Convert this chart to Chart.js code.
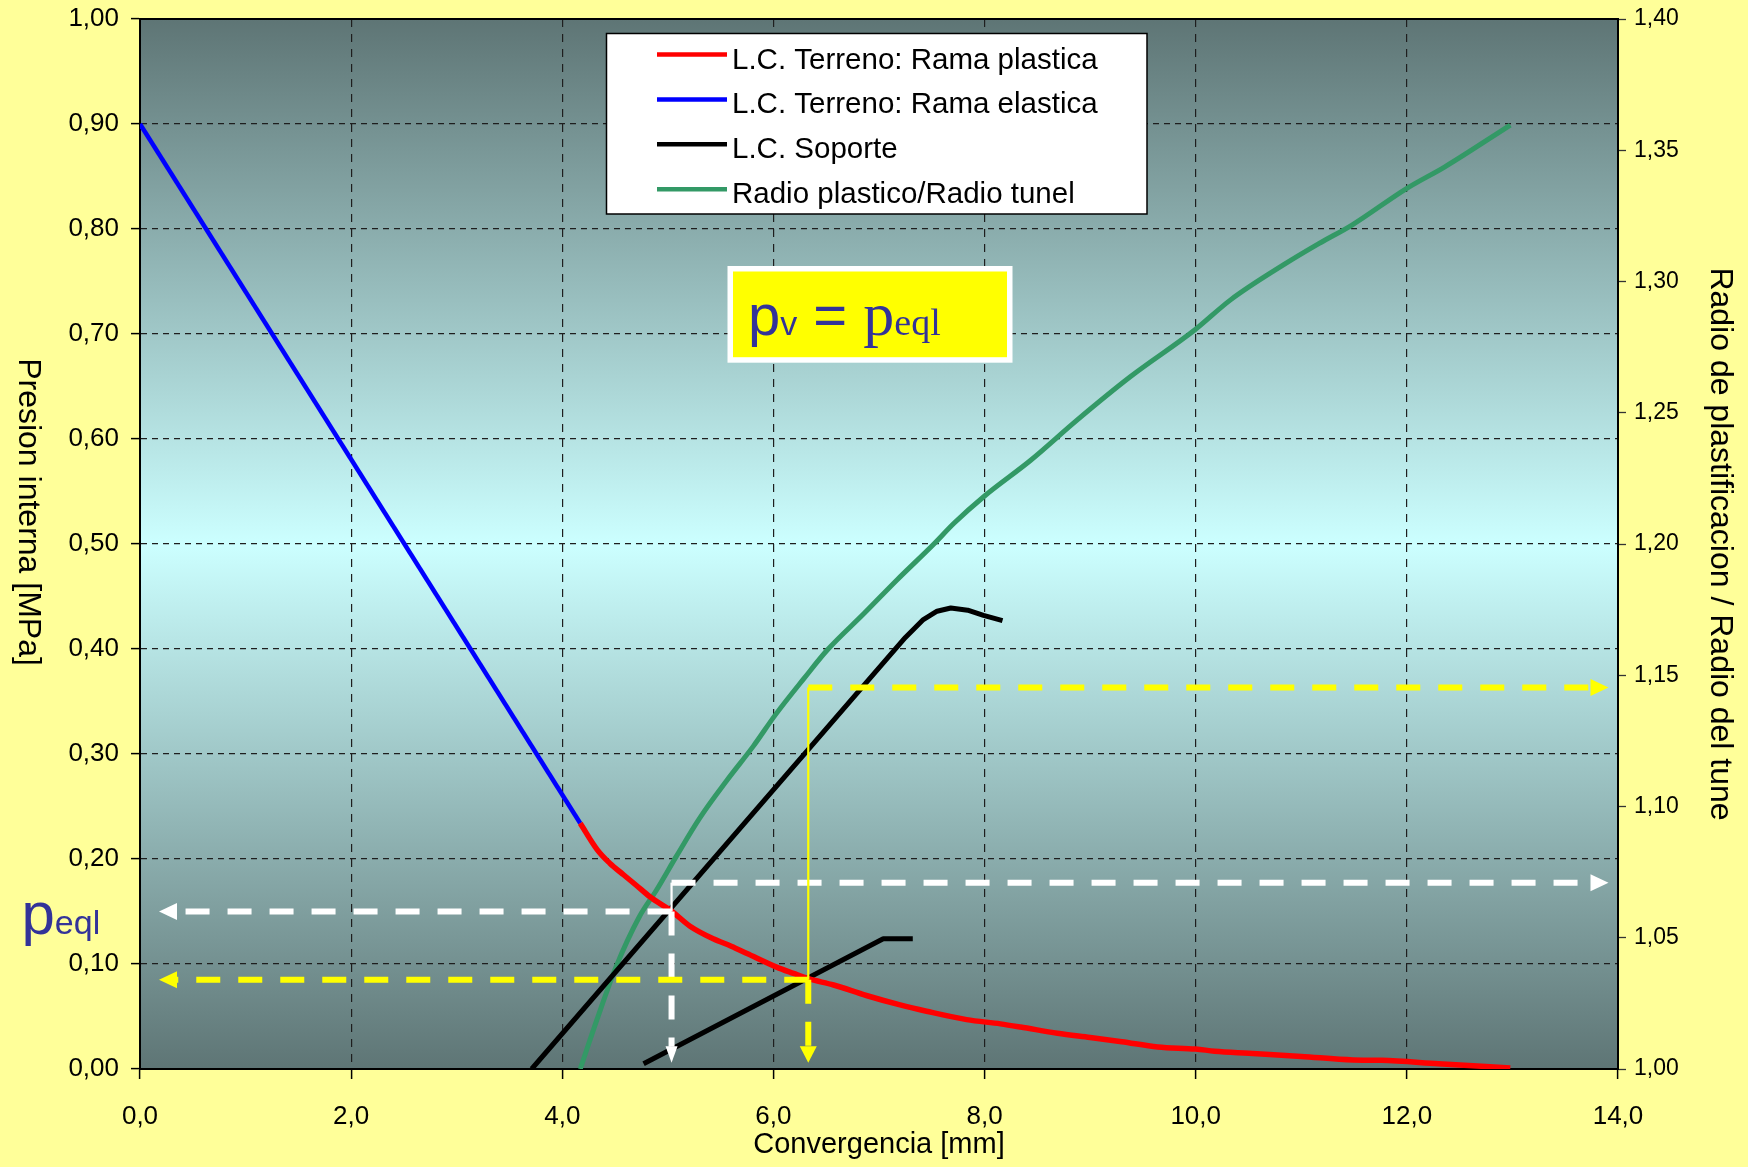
<!DOCTYPE html>
<html>
<head>
<meta charset="utf-8">
<script src="https://cdn.jsdelivr.net/npm/chart.js@4.4.1/dist/chart.umd.min.js"></script>
<style>
html,body{margin:0;padding:0;background:#FFFF99;}
canvas{display:block;}
</style>
</head>
<body>
<canvas id="c" width="1748" height="1167"></canvas>
<script>
// ---------------- DATA ----------------
const seriesNames = ['L.C. Terreno: Rama plastica', 'L.C. Terreno: Rama elastica', 'L.C. Soporte', 'Radio plastico/Radio tunel'];

const elasticX = [0, 4.17];
const elasticP = [0.90, 0.234];

const plasticX = [4.17,4.33,4.45,4.58,4.70,4.83,5.04,5.21,5.43,5.60,5.75,6.03,6.19,6.33,6.57,6.88,7.20,7.45,7.83,8.15,8.34,8.69,9.00,9.30,9.64,10.00,10.18,10.50,11.00,11.49,11.76,12.30,12.98];
const plasticP = [0.234,0.209,0.196,0.185,0.175,0.164,0.150,0.136,0.124,0.117,0.110,0.097,0.091,0.086,0.080,0.070,0.061,0.055,0.047,0.043,0.040,0.034,0.030,0.026,0.021,0.019,0.017,0.015,0.012,0.0086,0.0083,0.005,0.001];

const support1X = [3.71,7.25,7.42,7.55,7.68,7.84,7.99,8.17];
const support1P = [0,0.411,0.428,0.436,0.439,0.437,0.432,0.427];
const support2X = [4.77,7.04,7.32];
const support2P = [0.005,0.124,0.124];

const radiusX = [4.17,4.33,4.51,4.73,4.89,5.08,5.30,5.56,5.81,6.02,6.29,6.51,6.86,7.17,7.52,7.71,8.00,8.44,8.87,9.38,9.99,10.33,10.83,11.17,11.48,12.00,12.36,12.98];
const radiusR = [1.000,1.019,1.039,1.058,1.068,1.081,1.0955,1.110,1.123,1.135,1.1488,1.1596,1.1736,1.1863,1.200,1.2079,1.2183,1.232,1.247,1.2637,1.2815,1.293,1.3063,1.3145,1.3215,1.3355,1.3437,1.3596];

// equilibrium guide lines (white = first, yellow = second)
const guideConv   = [5.035, 6.33];
const guidePress  = [0.150, 0.085];
const guideRadius = [1.071, 1.1453];
const guideColors = ['#FFFFFF', '#FFFF00'];
const guideLeftEnd = 0.18, guideRightEnd = 13.91, guideBottomEnd = 0.006;

// axis ranges / tick steps
const xRange = [0, 14], xStep = 2;
const pRange = [0, 1], pStep = 0.1;
const rRange = [1, 1.4], rStep = 0.05;

// ---------------- HELPERS ----------------
const SANS = "'Liberation Sans', Arial, sans-serif";
const SERIF = "'Liberation Serif', 'Times New Roman', serif";
const TEXT_BLUE = '#333399';
const fmt = (v, d) => Number(v).toFixed(d).replace('.', ',');
const toPts = (xs, ys) => xs.map((x, i) => ({x: x, y: ys[i]}));

const supportData = toPts(support1X, support1P).concat([{x: 8.3, y: null}], toPts(support2X, support2P));

// ---------------- PLUGINS ----------------
const bgPlugin = {
  id: 'bg',
  beforeDraw(chart) {
    const {ctx, chartArea: a} = chart;
    ctx.save();
    ctx.fillStyle = '#FFFF99';
    ctx.fillRect(0, 0, chart.width, chart.height);
    const g = ctx.createLinearGradient(0, a.top, 0, a.bottom);
    g.addColorStop(0, '#5E7575');
    g.addColorStop(0.5, '#CCFFFF');
    g.addColorStop(1, '#5E7575');
    ctx.fillStyle = g;
    ctx.fillRect(a.left, a.top, a.right - a.left, a.bottom - a.top);
    ctx.restore();
  },
  beforeDatasetsDraw(chart) {
    const {ctx, chartArea: a} = chart;
    ctx.save();
    ctx.strokeStyle = '#000';
    ctx.lineWidth = 2;
    ctx.beginPath();
    ctx.moveTo(a.left, a.top);
    ctx.lineTo(a.right, a.top);
    ctx.stroke();
    ctx.restore();
  }
};

function arrowHead(ctx, tx, ty, dir, len, half, color) {
  ctx.fillStyle = color;
  ctx.beginPath();
  if (dir === 'left') { ctx.moveTo(tx, ty); ctx.lineTo(tx + len, ty - half); ctx.lineTo(tx + len, ty + half); }
  else if (dir === 'right') { ctx.moveTo(tx, ty); ctx.lineTo(tx - len, ty - half); ctx.lineTo(tx - len, ty + half); }
  else { ctx.moveTo(tx, ty); ctx.lineTo(tx - half, ty - len); ctx.lineTo(tx + half, ty - len); }
  ctx.closePath();
  ctx.fill();
}
function dashed(ctx, x1, y1, x2, y2, color) {
  ctx.save();
  ctx.strokeStyle = color;
  ctx.lineWidth = 6;
  ctx.lineCap = 'butt';
  ctx.setLineDash([24, 18]);
  ctx.beginPath();
  ctx.moveTo(x1, y1);
  ctx.lineTo(x2, y2);
  ctx.stroke();
  ctx.restore();
}

const guidePlugin = {
  id: 'guides',
  afterDatasetsDraw(chart) {
    const ctx = chart.ctx;
    const xs = chart.scales.x, ys = chart.scales.y, rs = chart.scales.y2;
    ctx.save();
    for (let i = 0; i < guideConv.length; i++) {
      const c = guideColors[i];
      const X = xs.getPixelForValue(guideConv[i]);
      const Yp = ys.getPixelForValue(guidePress[i]);
      const Yr = rs.getPixelForValue(guideRadius[i]);
      const XL = xs.getPixelForValue(guideLeftEnd);
      const XR = xs.getPixelForValue(guideRightEnd);
      const YB = ys.getPixelForValue(guideBottomEnd);
      ctx.strokeStyle = c; ctx.lineWidth = 2.2; ctx.setLineDash([]);
      ctx.beginPath(); ctx.moveTo(X, Yp); ctx.lineTo(X, Yr); ctx.stroke();
      dashed(ctx, X, Yp, XL + 18, Yp, c);
      arrowHead(ctx, XL, Yp, 'left', 18, 8.5, c);
      dashed(ctx, X, Yp, X, YB - 16, c);
      arrowHead(ctx, X, YB, 'down', 16.5, i === 0 ? 6 : 8.5, c);
      dashed(ctx, X, Yr, XR - 18, Yr, c);
      arrowHead(ctx, XR, Yr, 'right', 18, 8.5, c);
    }
    ctx.restore();
  }
};

const overlayPlugin = {
  id: 'overlay',
  afterDraw(chart) {
    const ctx = chart.ctx;
    ctx.save();
    // ---- legend ----
    const lg = {l: 606.5, t: 33.5, r: 1147, b: 214};
    ctx.fillStyle = '#FFFFFF';
    ctx.fillRect(lg.l, lg.t, lg.r - lg.l, lg.b - lg.t);
    ctx.strokeStyle = '#000'; ctx.lineWidth = 1.5;
    ctx.strokeRect(lg.l, lg.t, lg.r - lg.l, lg.b - lg.t);
    ctx.font = '29.5px ' + SANS;
    ctx.textAlign = 'left'; ctx.textBaseline = 'alphabetic';
    chart.data.datasets.forEach((ds, i) => {
      const ly = 54.5 + i * 44.9;
      ctx.strokeStyle = ds.borderColor; ctx.lineWidth = 4.5;
      ctx.beginPath(); ctx.moveTo(657, ly); ctx.lineTo(727, ly); ctx.stroke();
      ctx.fillStyle = '#000';
      ctx.fillText(ds.label, 732, 68.5 + i * 44.8);
    });

    // ---- pv = peql box ----
    ctx.fillStyle = '#FFFFFF';
    ctx.fillRect(727.5, 266, 285, 96.7);
    ctx.fillStyle = '#FFFF00';
    ctx.fillRect(733, 271.5, 274, 85.7);
    ctx.fillStyle = TEXT_BLUE;
    let x = 748; const base = 335;
    const parts = [['p', '58px ' + SANS], ['v', '34px ' + SANS], [' = ', '58px ' + SANS], ['p', '62px ' + SERIF], ['eql', '38px ' + SERIF]];
    parts.forEach(([t, f]) => { ctx.font = f; ctx.fillText(t, x, base); x += ctx.measureText(t).width; });

    // ---- peql label (left) ----
    x = 21.5;
    [['p', '60px ' + SANS], ['eql', '34px ' + SANS]].forEach(([t, f]) => { ctx.font = f; ctx.fillText(t, x, 934); x += ctx.measureText(t).width; });

    // ---- left axis title (reads top to bottom) ----
    ctx.translate(28, 512);
    ctx.rotate(Math.PI / 2);
    ctx.font = '32px ' + SANS;
    ctx.fillStyle = '#000';
    ctx.textAlign = 'center'; ctx.textBaseline = 'middle';
    ctx.fillText('Presion interna [MPa]', 0, 0);
    ctx.restore();
  }
};

// ---------------- CHART ----------------
const common = {pointRadius: 0, pointHoverRadius: 0, fill: false, borderCapStyle: 'butt', borderJoinStyle: 'round'};

new Chart(document.getElementById('c'), {
  type: 'line',
  data: {
    datasets: [
      Object.assign({label: seriesNames[0], data: toPts(plasticX, plasticP), borderColor: '#FF0000', borderWidth: 5.5, yAxisID: 'y', cubicInterpolationMode: 'monotone'}, common),
      Object.assign({label: seriesNames[1], data: toPts(elasticX, elasticP), borderColor: '#0000FF', borderWidth: 4.5, yAxisID: 'y'}, common),
      Object.assign({label: seriesNames[2], data: supportData, borderColor: '#000000', borderWidth: 5, yAxisID: 'y', tension: 0, spanGaps: false}, common),
      Object.assign({label: seriesNames[3], data: toPts(radiusX, radiusR), borderColor: '#339966', borderWidth: 5, yAxisID: 'y2', cubicInterpolationMode: 'monotone'}, common)
    ]
  },
  options: {
    responsive: false,
    animation: false,
    devicePixelRatio: 1,
    events: [],
    layout: {padding: {top: 19, left: 0, right: 0, bottom: 0}},
    plugins: {legend: {display: false}, tooltip: {enabled: false}},
    scales: {
      x: {
        type: 'linear', position: 'bottom', min: xRange[0], max: xRange[1],
        ticks: {stepSize: xStep, callback: v => fmt(v, 1), font: {family: SANS, size: 26}, color: '#000', padding: 22, maxRotation: 0, autoSkip: false},
        grid: {color: '#1e1e1e', lineWidth: 1.2, tickLength: 10, tickColor: '#000', tickWidth: 1.5, tickBorderDash: []},
        border: {display: true, color: '#000', width: 2, dash: [8, 7]},
        title: {display: true, text: 'Convergencia [mm]', font: {family: SANS, size: 29}, color: '#000', padding: {top: 0, bottom: 5}},
        afterFit: s => { s.height = 98; s.paddingLeft = 0; s.paddingRight = 0; }
      },
      y: {
        type: 'linear', position: 'left', min: pRange[0], max: pRange[1],
        ticks: {stepSize: pStep, callback: v => fmt(v, 2), font: {family: SANS, size: 26}, color: '#000', padding: 12},
        grid: {color: '#1e1e1e', lineWidth: 1.2, tickLength: 9, tickColor: '#000', tickWidth: 1.5, tickBorderDash: []},
        border: {display: true, color: '#000', width: 2, dash: [6, 5]},
        title: {display: false},
        afterFit: s => { s.width = 140; s.paddingTop = 0; s.paddingBottom = 0; }
      },
      y2: {
        type: 'linear', position: 'right', min: rRange[0], max: rRange[1],
        ticks: {stepSize: rStep, callback: v => fmt(v, 2), font: {family: SANS, size: 23}, color: '#000', padding: 8},
        grid: {drawOnChartArea: false, tickLength: 8, tickColor: '#333', tickWidth: 1.3},
        border: {display: true, color: '#000', width: 2},
        title: {display: true, text: 'Radio de plastificacion / Radio del tune', font: {family: SANS, size: 32}, color: '#000', padding: {top: 9, bottom: 0}},
        afterFit: s => { s.width = 130; s.paddingTop = 0; s.paddingBottom = 0; }
      }
    }
  },
  plugins: [bgPlugin, guidePlugin, overlayPlugin]
});
</script>
</body>
</html>
